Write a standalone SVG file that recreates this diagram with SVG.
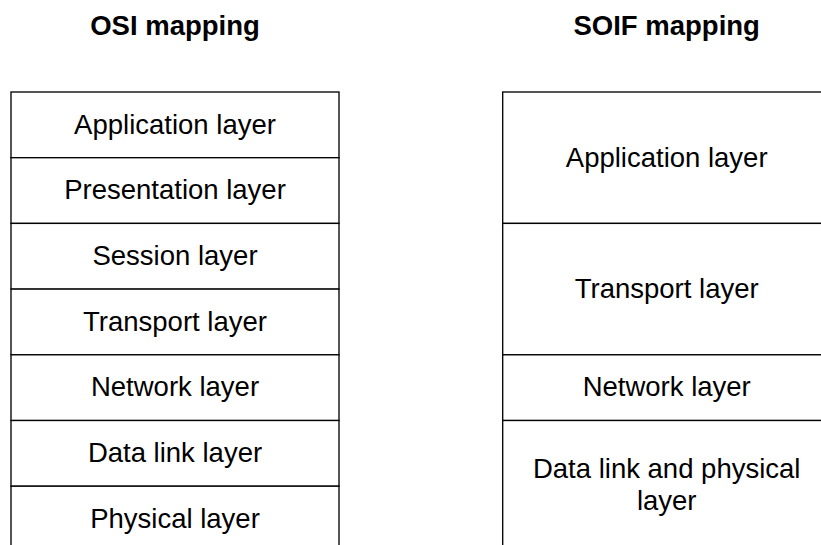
<svg xmlns="http://www.w3.org/2000/svg" width="821" height="545" viewBox="0 0 821 545">
<style>
.t{font-family:"Liberation Sans",Arial,sans-serif;font-size:27.5px;fill:#000;text-anchor:middle}
.h{font-weight:bold}
.b{fill:#fff;stroke:#000;stroke-width:1.33}
</style>
<rect width="821" height="545" fill="#fff"/>
<text class="t h" x="175" y="35">OSI mapping</text>
<text class="t h" x="666.7" y="35">SOIF mapping</text>
<g id="osi">
<g id="osi-app"><rect class="b" x="11" y="92" width="328" height="65.7"/><text class="t" x="175" y="133.5">Application layer</text></g>
<g id="osi-pres"><rect class="b" x="11" y="157.7" width="328" height="65.7"/><text class="t" x="175" y="199.2">Presentation layer</text></g>
<g id="osi-sess"><rect class="b" x="11" y="223.4" width="328" height="65.7"/><text class="t" x="175" y="264.9">Session layer</text></g>
<g id="osi-trans"><rect class="b" x="11" y="289.1" width="328" height="65.7"/><text class="t" x="175" y="330.6">Transport layer</text></g>
<g id="osi-net"><rect class="b" x="11" y="354.8" width="328" height="65.7"/><text class="t" x="175" y="396.3">Network layer</text></g>
<g id="osi-dl"><rect class="b" x="11" y="420.5" width="328" height="65.7"/><text class="t" x="175" y="462">Data link layer</text></g>
<g id="osi-phy"><rect class="b" x="11" y="486.2" width="328" height="65.7"/><text class="t" x="175" y="527.7">Physical layer</text></g>
</g>
<g id="soif">
<g id="soif-app"><rect class="b" x="502.7" y="92" width="328" height="131.4"/><text class="t" x="666.7" y="166.7">Application layer</text></g>
<g id="soif-trans"><rect class="b" x="502.7" y="223.4" width="328" height="131.4"/><text class="t" x="666.7" y="298.1">Transport layer</text></g>
<g id="soif-net"><rect class="b" x="502.7" y="354.8" width="328" height="65.7"/><text class="t" x="666.7" y="396.3">Network layer</text></g>
<g id="soif-dlphy"><rect class="b" x="502.7" y="420.5" width="328" height="131.4"/><text class="t" x="666.7" y="478">Data link and physical</text><text class="t" x="666.7" y="510">layer</text></g>
</g>
<g id="connectors"/>
</svg>
